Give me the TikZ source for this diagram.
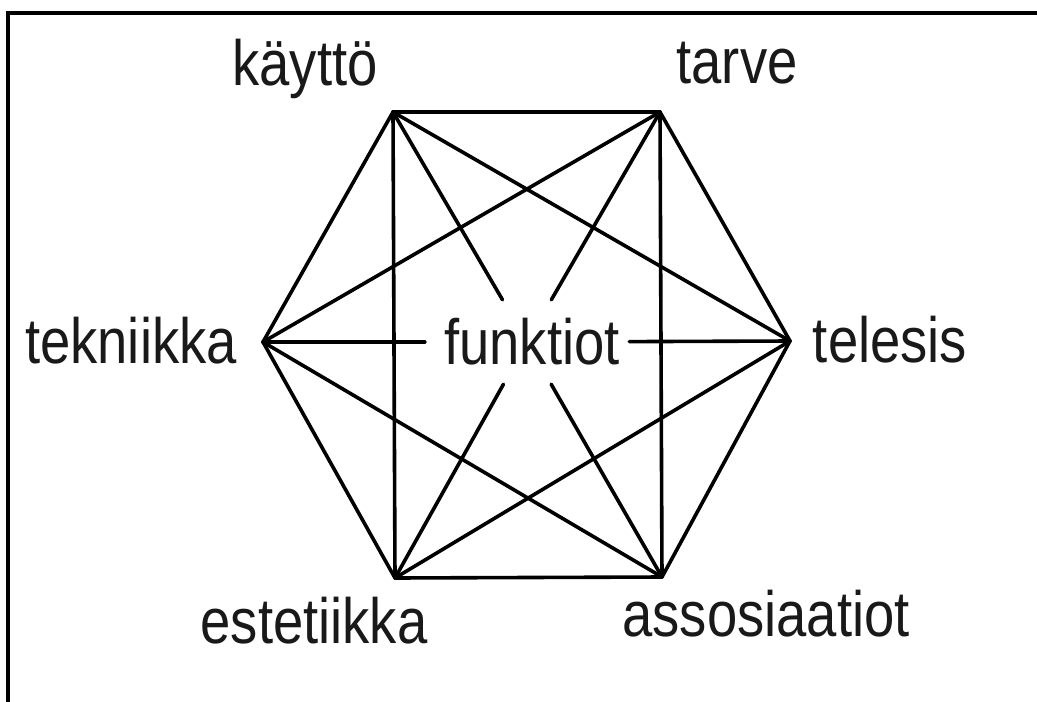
\documentclass[tikz,border=0pt]{standalone}
\usepackage{fontspec}
\newfontfamily\labfont{Liberation Sans}[FakeStretch=0.85]
\begin{document}
\begin{tikzpicture}[x=1pt,y=-1pt,
  edge/.style={line width=3.6pt, line cap=round, line join=miter},
  frameline/.style={line width=3.8pt},
  lab/.style={inner sep=0pt, anchor=base, font=\labfont\fontsize{64}{70}\selectfont, text=black!90}]
\useasboundingbox (0,0) rectangle (1037,702);
\fill[white] (0,0) rectangle (1037,702);
% frame (left and top only visible)
\coordinate (fa) at (8,702);
\coordinate (fb) at (8,13);
\coordinate (fc) at (1037,13);
\draw[frameline] (fa) -- (fb) -- (fc);
% hexagon vertices
\coordinate (A) at (393,112); % kaytto
\coordinate (B) at (660,112); % tarve
\coordinate (C) at (790,341); % telesis
\coordinate (D) at (662,577); % assosiaatiot
\coordinate (E) at (395,578); % estetiikka
\coordinate (F) at (263,342); % tekniikka
% centre label (its box makes the gap)
\node[rectangle, inner sep=0pt, minimum width=204pt, minimum height=84pt,
      font=\labfont\fontsize{64}{70}\selectfont, text=black!90] (fk) at (527,342) {\hspace{10pt}funktiot};
% labels
\node[lab] (lA) at (305,85) {käyttö};
\node[lab] (lB) at (737,83) {tarve};
\node[lab] (lC) at (890,362) {telesis};
\node[lab] (lD) at (766,636) {assosiaatiot};
\node[lab] (lE) at (314,643) {estetiikka};
\node[lab] (lF) at (131,363) {tekniikka};
% edges of the complete graph
\draw[edge] (A) -- (B);
\draw[edge] (A) -- (C);
\draw[edge] (A) -- (E);
\draw[edge] (A) -- (F);
\draw[edge] (B) -- (C);
\draw[edge] (B) -- (D);
\draw[edge] (B) -- (F);
\draw[edge] (C) -- (D);
\draw[edge] (C) -- (E);
\draw[edge] (D) -- (E);
\draw[edge] (D) -- (F);
\draw[edge] (E) -- (F);
% edges through the centre, broken by the label
\draw[edge] (A) -- (fk); \draw[edge] (fk) -- (D);
\draw[edge] (B) -- (fk); \draw[edge] (fk) -- (E);
\draw[edge] (F) -- (fk); \draw[edge] (fk) -- (C);
\end{tikzpicture}
\end{document}
